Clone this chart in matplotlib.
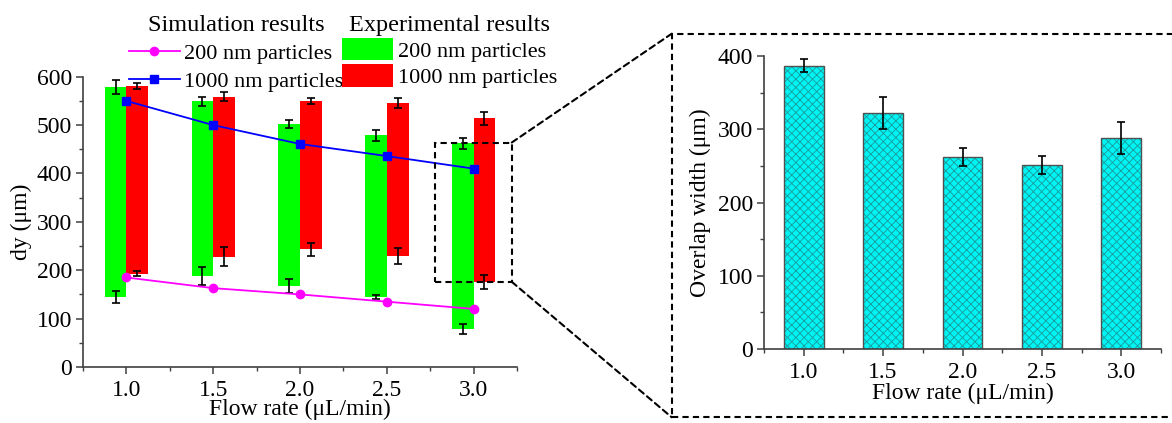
import matplotlib
matplotlib.use("Agg")
import matplotlib.pyplot as plt
from matplotlib.patches import Patch, Rectangle, ConnectionPatch
from matplotlib.ticker import MultipleLocator
import numpy as np

plt.rcParams['font.family'] = ['Liberation Serif', 'DejaVu Serif']
plt.rcParams['hatch.linewidth'] = 0.6

# flow rates (uL/min)
flow = np.array([1.0, 1.5, 2.0, 2.5, 3.0])

# experimental bands (floating bars): bottom / top, with errors at each end
green_top = np.array([579, 549, 502, 479, 462])
green_bot = np.array([145, 188, 167, 145, 79])
green_top_err = np.array([15, 10, 9, 11, 12])
green_bot_err = np.array([13, 18, 14, 4.5, 10])

red_top = np.array([580, 559, 550, 545, 514])
red_bot = np.array([193, 228, 243, 229, 176])
red_top_err = np.array([6, 9, 6, 10, 14])
red_bot_err = np.array([5.5, 19, 14, 16, 14])

# simulation results
sim_200 = np.array([185, 163, 150, 135, 120])
sim_1000 = np.array([550, 500, 461, 436, 410])

# overlap width (right panel)
overlap = np.array([387, 322, 262, 251, 288])
overlap_err = np.array([9.5, 22, 12, 12, 22])

xticks = [1.0, 1.5, 2.0, 2.5, 3.0]
xticklabels = ['1.0', '1.5', '2.0', '2.5', '3.0']

W, H = 1172, 423
fig = plt.figure(figsize=(W / 100, H / 100), dpi=100)

ax1 = fig.add_axes([83 / W, 1 - 367 / H, (517 - 83) / W, (367 - 76.7) / H])
ax2 = fig.add_axes([764 / W, 1 - 349 / H, (1161 - 764) / W, (349 - 56) / H])

fs = 17
spine_col = '#404040'
for ax in (ax1, ax2):
    ax.spines['top'].set_visible(False)
    ax.spines['right'].set_visible(False)
    ax.spines['left'].set_color(spine_col)
    ax.spines['bottom'].set_color(spine_col)
    ax.spines['left'].set_linewidth(1.2)
    ax.spines['bottom'].set_linewidth(1.2)
    ax.tick_params(which='major', direction='out', length=5, width=1.1,
                   colors=spine_col, labelcolor='black', labelsize=fs, pad=3)
    ax.tick_params(which='minor', direction='out', length=3, width=1.0,
                   colors=spine_col)
    ax.tick_params(axis='x', which='major', pad=4)
    ax.set_xlim(0.75, 3.25)
    ax.set_xticks(xticks)
    ax.set_xticklabels(xticklabels)
    ax.xaxis.set_minor_locator(MultipleLocator(0.25))
ax1.set_xlabel('Flow rate (\u03bcL/min)', fontsize=fs, labelpad=-1)
ax2.set_xlabel('Flow rate (\u03bcL/min)', fontsize=fs, labelpad=0)

# ---- left panel ----
bw = 0.125
ax1.bar(flow - bw / 2, green_top - green_bot, bottom=green_bot, width=bw,
        color='#00ff00', edgecolor='none', zorder=2)
ax1.bar(flow + bw / 2, red_top - red_bot, bottom=red_bot, width=bw,
        color='#ff0000', edgecolor='none', zorder=2)

eb = dict(fmt='none', ecolor='black', elinewidth=1.2, capsize=3, capthick=1.2, zorder=3)
ax1.errorbar(flow - bw / 2, green_top, yerr=green_top_err, **eb)
ax1.errorbar(flow - bw / 2, green_bot, yerr=green_bot_err, **eb)
ax1.errorbar(flow + bw / 2, red_top, yerr=red_top_err, **eb)
ax1.errorbar(flow + bw / 2, red_bot, yerr=red_bot_err, **eb)

l200, = ax1.plot(flow, sim_200, color='#ff00ff', lw=1.3, marker='o', ms=6, zorder=4)
l1000, = ax1.plot(flow, sim_1000, color='#0000ff', lw=1.3, marker='s', ms=5.5, zorder=4)

ax1.set_ylim(0, 600)
ax1.yaxis.set_major_locator(MultipleLocator(100))
ax1.yaxis.set_minor_locator(MultipleLocator(50))
ax1.set_ylabel('dy (\u03bcm)', fontsize=fs, labelpad=3)

leg_fs = 16
leg1 = fig.legend([l200, l1000], ['200 nm particles', '1000 nm particles'],
                  title='Simulation results', loc='upper left',
                  bbox_to_anchor=(113 / W, 1 + 1 / H), frameon=False,
                  fontsize=leg_fs, title_fontsize=17.5, handlelength=2.3,
                  handletextpad=0.2, labelspacing=0.35, borderpad=0.2)
g_patch = Patch(facecolor='#00ff00', edgecolor='none')
r_patch = Patch(facecolor='#ff0000', edgecolor='none')
leg2 = fig.legend([g_patch, r_patch], ['200 nm particles', '1000 nm particles'],
                  title='Experimental results', loc='upper left',
                  bbox_to_anchor=(326 / W, 1 + 1 / H), frameon=False,
                  fontsize=leg_fs, title_fontsize=17.5, handlelength=2.3,
                  handleheight=1.15, handletextpad=0.25, labelspacing=0.12,
                  borderpad=0.2)

# zoom box on the 3.0 group
box_x0, box_x1, box_y0, box_y1 = 2.78, 3.22, 176, 464
ax1.add_patch(Rectangle((box_x0, box_y0), box_x1 - box_x0, box_y1 - box_y0,
                        fill=False, ls=(0, (3, 2)), lw=1.5, ec='black', zorder=5))

# ---- right panel ----
# hatch takes the edge colour, so draw the crosshatch fill and the outline separately
ax2.bar(flow, overlap, width=0.25, color='#00f4f4', edgecolor='#1a9a9a',
        linewidth=0, hatch='xxxx', zorder=2)
ax2.bar(flow, overlap, width=0.25, fill=False, edgecolor='#505050',
        linewidth=1.0, zorder=2)
ax2.errorbar(flow, overlap, yerr=overlap_err, **eb)
ax2.set_ylim(0, 400)
ax2.yaxis.set_major_locator(MultipleLocator(100))
ax2.yaxis.set_minor_locator(MultipleLocator(50))
ax2.set_ylabel('Overlap width (\u03bcm)', fontsize=fs, labelpad=5)

# big dashed frame around right panel and connectors
fx0, fy0 = 671.7 / W, 1 - 417.3 / H
fx1, fy1 = 1.01, 1 - 33.7 / H
fig.patches.append(Rectangle((fx0, fy0), fx1 - fx0, fy1 - fy0, fill=False,
                             ls=(0, (3, 2)), lw=1.5, ec='black',
                             transform=fig.transFigure, figure=fig))
for yb, yf in [(box_y1, fy1), (box_y0, fy0)]:
    con = ConnectionPatch(xyA=(box_x1, yb), coordsA=ax1.transData,
                          xyB=(fx0, yf), coordsB=fig.transFigure,
                          ls=(0, (3, 2)), lw=1.5, color='black')
    fig.add_artist(con)

fig.savefig('out.png', dpi=100)
